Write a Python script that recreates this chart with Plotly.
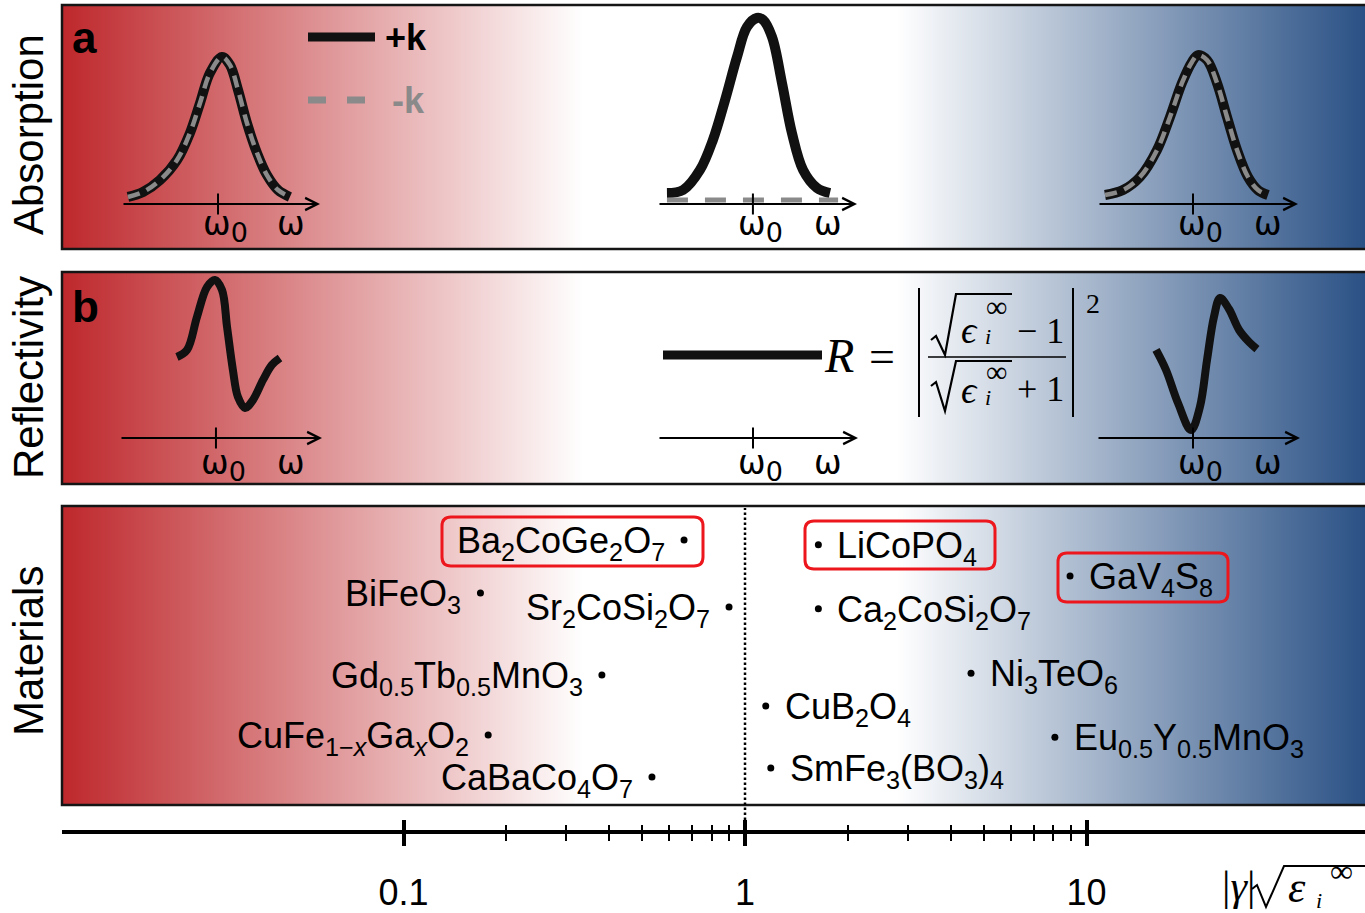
import numpy as np
import plotly.graph_objects as go

W, H = 1365, 913


def px(x):
    return x / W


def py(y):
    return 1 - y / H


SANS = "Liberation Sans, Arial, sans-serif"
SERIF = "Liberation Serif, Times New Roman, DejaVu Serif, serif"
OMEGA_FONT = "DejaVu Sans, Liberation Sans, sans-serif"

# ====================== DATA ======================
material_labels = [
    "Ba<sub>2</sub>CoGe<sub>2</sub>O<sub>7</sub>",
    "BiFeO<sub>3</sub>",
    "Sr<sub>2</sub>CoSi<sub>2</sub>O<sub>7</sub>",
    "Gd<sub>0.5</sub>Tb<sub>0.5</sub>MnO<sub>3</sub>",
    "CuFe<sub>1−<i>x</i></sub>Ga<sub><i>x</i></sub>O<sub>2</sub>",
    "CaBaCo<sub>4</sub>O<sub>7</sub>",
    "LiCoPO<sub>4</sub>",
    "GaV<sub>4</sub>S<sub>8</sub>",
    "Ca<sub>2</sub>CoSi<sub>2</sub>O<sub>7</sub>",
    "Ni<sub>3</sub>TeO<sub>6</sub>",
    "CuB<sub>2</sub>O<sub>4</sub>",
    "Eu<sub>0.5</sub>Y<sub>0.5</sub>MnO<sub>3</sub>",
    "SmFe<sub>3</sub>(BO<sub>3</sub>)<sub>4</sub>",
]
material_values = [0.663, 0.168, 0.898, 0.381, 0.177, 0.534,
                   1.64, 8.95, 1.64, 4.59, 1.15, 8.08, 1.19]
material_highlight = [True, False, False, False, False, False,
                      True, True, False, False, False, False, False]

axis_tick_values = [0.1, 1, 10]
axis_tick_text = ["0.1", "1", "10"]
axis_minor_values = [0.2, 0.3, 0.4, 0.5, 0.6, 0.7, 0.8, 0.9,
                     2, 3, 4, 5, 6, 7, 8, 9]
threshold_value = 1

panel_titles = ["Absorption", "Reflectivity", "Materials"]
panel_letters = ["a", "b"]
legend_names = ["+k", "-k"]

# absorption sketches: normalized frequency, normalized absorption
abs_weak_omega = [0.030, 0.106, 0.192, 0.278, 0.343, 0.394, 0.444, 0.505,
                  0.545, 0.586, 0.631, 0.682, 0.732, 0.788, 0.848]
abs_weak_plus = [0.047, 0.080, 0.160, 0.293, 0.473, 0.673, 0.873, 0.980,
                 0.927, 0.760, 0.540, 0.340, 0.193, 0.093, 0.047]
abs_weak_minus = [0.047, 0.080, 0.160, 0.293, 0.473, 0.673, 0.873, 0.980,
                  0.927, 0.760, 0.540, 0.340, 0.193, 0.093, 0.047]

abs_mid_omega = [0.045, 0.126, 0.211, 0.276, 0.337, 0.397, 0.447, 0.497,
                 0.528, 0.573, 0.623, 0.673, 0.729, 0.799, 0.864]
abs_mid_plus = [0.073, 0.093, 0.227, 0.427, 0.693, 0.980, 1.180, 1.240,
                1.227, 1.113, 0.807, 0.473, 0.227, 0.107, 0.073]
abs_mid_minus_omega = [0.045, 0.905]
abs_mid_minus = [0.027, 0.027]

abs_strong_omega = [0.035, 0.125, 0.210, 0.295, 0.360, 0.420, 0.470, 0.500,
                    0.545, 0.595, 0.645, 0.695, 0.750, 0.800, 0.850]
abs_strong_plus = [0.060, 0.093, 0.180, 0.360, 0.580, 0.807, 0.947, 0.993,
                   0.960, 0.807, 0.580, 0.360, 0.180, 0.093, 0.060]
abs_strong_minus = [0.060, 0.093, 0.180, 0.360, 0.580, 0.807, 0.947, 0.993,
                    0.960, 0.807, 0.580, 0.360, 0.180, 0.093, 0.060]

# reflectivity sketches
refl_weak_omega = [0.282, 0.332, 0.381, 0.431, 0.470, 0.505, 0.530, 0.559,
                   0.584, 0.619, 0.658, 0.708, 0.752, 0.792]
refl_weak = [0.540, 0.587, 0.807, 1.007, 1.053, 0.987, 0.740, 0.453,
             0.273, 0.200, 0.253, 0.387, 0.487, 0.533]
refl_mid_omega = [0.025, 0.820]
refl_mid = [0.553, 0.553]
refl_strong_omega = [0.291, 0.340, 0.399, 0.463, 0.507, 0.542, 0.576, 0.606,
                     0.650, 0.700, 0.749, 0.788]
refl_strong = [0.587, 0.453, 0.233, 0.053, 0.207, 0.520, 0.807, 0.933,
               0.860, 0.720, 0.640, 0.593]

omega0_values = [0.485, 0.477, 0.475, 0.475, 0.475, 0.473]

# ====================== LAYOUT GEOMETRY ======================
PANELS = [(5, 249), (272, 484), (506, 805)]
PANEL_LEFT = 62
AXIS_Y = 832
ONE_PX = 745.0
DECADE_PX = 341.5
log_range = [(PANEL_LEFT - ONE_PX) / DECADE_PX, (W - ONE_PX) / DECADE_PX]

material_rows = [0.886, 0.709, 0.662, 0.435, 0.234, 0.094,
                 0.870, 0.766, 0.656, 0.441, 0.331, 0.227, 0.124]
highlight_boxes = {0: (442, 517, 703, 566), 6: (805, 521, 995, 569),
                   7: (1058, 553, 1228, 602)}

UNIT = 150.0
INSETS = [
    dict(x0=122, x1=320, y0=204, ymax=1.3, lab=0.854, dy=0),
    dict(x0=658, x1=857, y0=204, ymax=1.3, lab=0.854, dy=0),
    dict(x0=1098, x1=1298, y0=204, ymax=1.3, lab=0.850, dy=0),
    dict(x0=120, x1=322, y0=438, ymax=1.2, lab=0.847, dy=-5),
    dict(x0=658, x1=858, y0=438, ymax=1.2, lab=0.850, dy=-5),
    dict(x0=1097, x1=1300, y0=438, ymax=1.2, lab=0.842, dy=-5),
]

BLACK = "#111111"
GRAY = "#8a8a8a"
STYLE = {
    "plus": dict(color=BLACK, width=10, shape="spline", smoothing=1.0),
    "minus": dict(color=GRAY, width=4.5, dash="12px,8px", shape="spline", smoothing=1.0),
    "minus_flat": dict(color=GRAY, width=5, dash="21px,17px"),
    "refl": dict(color=BLACK, width=8, shape="spline", smoothing=1.0),
    "refl_flat": dict(color=BLACK, width=9),
}
inset_series = [
    [(abs_weak_omega, abs_weak_plus, "plus", "+k"), (abs_weak_omega, abs_weak_minus, "minus", "-k")],
    [(abs_mid_omega, abs_mid_plus, "plus", "+k"), (abs_mid_minus_omega, abs_mid_minus, "minus_flat", "-k")],
    [(abs_strong_omega, abs_strong_plus, "plus", "+k"), (abs_strong_omega, abs_strong_minus, "minus", "-k")],
    [(refl_weak_omega, refl_weak, "refl", "R")],
    [(refl_mid_omega, refl_mid, "refl_flat", "R")],
    [(refl_strong_omega, refl_strong, "refl", "R")],
]

grad_scale = [[0.0, "rgb(190,40,44)"], [0.40, "rgb(255,255,255)"],
              [0.64, "rgb(255,255,255)"], [1.0, "rgb(42,81,133)"]]

fig = go.Figure()
layout = dict(
    width=W, height=H, margin=dict(l=0, r=0, t=0, b=0),
    paper_bgcolor="white", plot_bgcolor="rgba(0,0,0,0)", showlegend=False,
)
shapes, annotations = [], []

# ---------- gradient panels ----------
layout["xaxis"] = dict(domain=[px(PANEL_LEFT), 1], range=[0, 1], visible=False, fixedrange=True)
for i, (top, bot) in enumerate(PANELS):
    yid = "y" if i == 0 else f"y{i + 1}"
    fig.add_trace(go.Heatmap(z=[[0, 1], [0, 1]], x=[0, 1], y=[0, 1], zmin=0, zmax=1,
                             zsmooth="best", colorscale=grad_scale, showscale=False,
                             hoverinfo="skip", xaxis="x", yaxis=yid))
    layout["yaxis" if i == 0 else f"yaxis{i + 1}"] = dict(
        domain=[py(bot), py(top)], range=[0, 1], visible=False, fixedrange=True, anchor="x")
    shapes.append(dict(type="rect", xref="paper", yref="paper", x0=px(PANEL_LEFT), x1=px(W + 3),
                       y0=py(bot), y1=py(top), line=dict(color="#151515", width=2.5),
                       fillcolor="rgba(0,0,0,0)", layer="above"))

# ---------- main log axis & materials ----------
layout["xaxis2"] = dict(
    type="log", domain=[px(PANEL_LEFT), 1], range=log_range, anchor="free", position=py(AXIS_Y),
    showline=True, linewidth=4, linecolor="black", showgrid=False, zeroline=False,
    tickmode="array", tickvals=axis_tick_values, ticktext=axis_tick_text,
    ticks="outside", ticklen=12, tickwidth=4, tickcolor="black",
    tickfont=dict(size=36, family=SANS, color="black"), ticklabelstandoff=16,
    minor=dict(tickmode="array", tickvals=axis_minor_values, ticks="outside",
               ticklen=7, tickwidth=2, tickcolor="black", showgrid=False),
    fixedrange=True)
layout["xaxis3"] = dict(
    type="log", domain=[px(PANEL_LEFT), 1], range=log_range, anchor="free", position=py(AXIS_Y),
    overlaying="x2", showline=False, showgrid=False, zeroline=False,
    tickmode="array", tickvals=axis_tick_values, ticks="inside", ticklen=12, tickwidth=4,
    tickcolor="black", showticklabels=False,
    minor=dict(tickmode="array", tickvals=axis_minor_values, ticks="inside",
               ticklen=7, tickwidth=2, tickcolor="black", showgrid=False),
    fixedrange=True)
top_c, bot_c = PANELS[2]
layout["yaxis4"] = dict(domain=[py(bot_c), py(top_c)], range=[0, 1], visible=False,
                        fixedrange=True, anchor="x2")

fig.add_trace(go.Scatter(x=material_values, y=material_rows, mode="markers",
                         marker=dict(color="black", size=7), xaxis="x2", yaxis="y4",
                         hoverinfo="skip"))
fig.add_trace(go.Scatter(x=[threshold_value], y=[0.5], mode="markers", marker=dict(opacity=0),
                         xaxis="x3", yaxis="y4", hoverinfo="skip"))

for i, (name, val, row) in enumerate(zip(material_labels, material_values, material_rows)):
    left = val < threshold_value
    annotations.append(dict(
        x=float(np.log10(val)), y=row, xref="x2", yref="y4", text=name, showarrow=False,
        xanchor="right" if left else "left", xshift=-17 if left else 17,
        yanchor="top", yshift=22, font=dict(size=36, family=SANS, color="black")))


def rrect(x0, y0, x1, y1, r):
    X, Y = px, py
    return (f"M {X(x0 + r)},{Y(y0)} L {X(x1 - r)},{Y(y0)} Q {X(x1)},{Y(y0)} {X(x1)},{Y(y0 + r)} "
            f"L {X(x1)},{Y(y1 - r)} Q {X(x1)},{Y(y1)} {X(x1 - r)},{Y(y1)} "
            f"L {X(x0 + r)},{Y(y1)} Q {X(x0)},{Y(y1)} {X(x0)},{Y(y1 - r)} "
            f"L {X(x0)},{Y(y0 + r)} Q {X(x0)},{Y(y0)} {X(x0 + r)},{Y(y0)} Z")


for i, hl in enumerate(material_highlight):
    if hl:
        shapes.append(dict(type="path", xref="paper", yref="paper", path=rrect(*highlight_boxes[i], 9),
                           line=dict(color="rgb(236,22,28)", width=3), layer="above"))

# threshold dotted line
shapes.append(dict(type="line", xref="x2", yref="paper", x0=threshold_value, x1=threshold_value,
                   y0=py(820), y1=py(508), line=dict(color="black", width=2.5, dash="2.5px,2.5px"),
                   layer="above"))


# ---------- helpers for math pieces ----------
def ftext(x, y, t, size, italic=False, family=SERIF, anchor="center"):
    annotations.append(dict(x=px(x), y=py(y), xref="paper", yref="paper",
                            text=("<i>" + t + "</i>") if italic else t, showarrow=False,
                            xanchor=anchor, yanchor="middle",
                            font=dict(size=size, family=family, color="black")))


def fline(x0, y0, x1, y1, w=2):
    shapes.append(dict(type="line", xref="paper", yref="paper", x0=px(x0), x1=px(x1),
                       y0=py(y0), y1=py(y1), line=dict(color="black", width=w), layer="above"))


def fpath(pts, w=2):
    p = "M " + " L ".join(f"{px(a)},{py(b)}" for a, b in pts)
    shapes.append(dict(type="path", xref="paper", yref="paper", path=p,
                       line=dict(color="black", width=w), layer="above"))


# axis title |γ|√ε_i^∞
ftext(1238, 886, "|<i>γ</i>|", 42)
fpath([(1252, 889), (1257, 885), (1266, 907), (1284, 866), (1368, 866)], 2)
ftext(1286, 887, "ε", 44, italic=True, anchor="left")
ftext(1314, 900, "i", 22, italic=True, anchor="left")
ftext(1328, 871, "∞", 32, anchor="left")

# ---------- insets ----------
for k, ins in enumerate(INSETS):
    xn, yn = 4 + k, 5 + k
    xid, yid = f"x{xn}", f"y{yn}"
    layout[f"xaxis{xn}"] = dict(domain=[px(ins["x0"]), px(ins["x1"])], range=[0, 1],
                                visible=False, fixedrange=True, anchor=yid)
    layout[f"yaxis{yn}"] = dict(domain=[py(ins["y0"] + 0.1 * UNIT), py(ins["y0"] - ins["ymax"] * UNIT)],
                                range=[-0.1, ins["ymax"]], visible=False, fixedrange=True, anchor=xid)
    for om, val, st, nm in inset_series[k]:
        fig.add_trace(go.Scatter(x=om, y=val, mode="lines", line=STYLE[st], name=nm,
                                 xaxis=xid, yaxis=yid, hoverinfo="skip"))
    fig.add_trace(go.Scatter(x=[omega0_values[k]], y=[0], mode="markers",
                             marker=dict(symbol="line-ns", size=15, line=dict(width=2, color="black")),
                             xaxis=xid, yaxis=yid, hoverinfo="skip"))
    annotations.append(dict(x=1, y=0, ax=0, ay=0, xref=xid, yref=yid, axref=xid, ayref=yid,
                            text="", showarrow=True, arrowhead=5, arrowsize=1.2, arrowwidth=2,
                            arrowcolor="black", standoff=0, startstandoff=0,
                            font=dict(size=1)))
    annotations.append(dict(x=omega0_values[k], y=0, xref=xid, yref=yid, showarrow=False,
                            text="ω<sub><span style='font-size:27px'>0</span></sub>",
                            xanchor="left", xshift=-17, yanchor="top", yshift=ins["dy"] + 2,
                            font=dict(size=33, family=OMEGA_FONT, color="black")))
    annotations.append(dict(x=ins["lab"], y=0, xref=xid, yref=yid, showarrow=False, text="ω",
                            xanchor="center", yanchor="top", yshift=ins["dy"] + 2,
                            font=dict(size=33, family=OMEGA_FONT, color="black")))

# ---------- legend (panel a) ----------
shapes.append(dict(type="line", xref="paper", yref="paper", x0=px(308), x1=px(375), y0=py(37), y1=py(37),
                   line=dict(color=BLACK, width=9), layer="above"))
shapes.append(dict(type="line", xref="paper", yref="paper", x0=px(308), x1=px(370), y0=py(100), y1=py(100),
                   line=dict(color=GRAY, width=7, dash="18px,21px"), layer="above"))
annotations.append(dict(x=px(383), y=py(37), xref="paper", yref="paper", text="<b>" + legend_names[0] + "</b>",
                        showarrow=False, xanchor="left", yanchor="middle",
                        font=dict(size=36, family=SANS, color="black")))
annotations.append(dict(x=px(390), y=py(100), xref="paper", yref="paper", text="<b>" + legend_names[1] + "</b>",
                        showarrow=False, xanchor="left", yanchor="middle",
                        font=dict(size=36, family=SANS, color=GRAY)))

# ---------- panel labels ----------
for title, yc in zip(panel_titles, [135, 378, 651]):
    annotations.append(dict(x=px(28), y=py(yc), xref="paper", yref="paper", text=title, textangle=-90,
                            showarrow=False, xanchor="center", yanchor="middle",
                            font=dict(size=42, family=SANS, color="black")))
for letter, yc in zip(panel_letters, [38, 306]):
    annotations.append(dict(x=px(70), y=py(yc), xref="paper", yref="paper", text="<b>" + letter + "</b>",
                            showarrow=False, xanchor="left", yanchor="middle",
                            font=dict(size=44, family=SANS, color="black")))

# ---------- reflectivity formula ----------
ftext(839, 355, "R", 48, italic=True)
ftext(882, 356, "=", 46)
fline(919, 288, 919, 417, 2)
fline(1073, 288, 1073, 417, 2)
ftext(1093, 303, "2", 28)
fline(928, 357, 1066, 357, 1.5)
# numerator
fpath([(931, 340), (936, 336), (945, 355), (956, 294), (1012, 294)], 2.2)
ftext(969, 330, "ϵ", 38, italic=True)
ftext(996, 306, "∞", 30)
ftext(988, 336, "i", 22, italic=True)
ftext(1040, 331, "− 1", 36)
# denominator
fpath([(931, 386), (936, 382), (945, 411), (956, 361), (1012, 361)], 2.2)
ftext(969, 390, "ϵ", 38, italic=True)
ftext(996, 372, "∞", 30)
ftext(988, 397, "i", 22, italic=True)
ftext(1040, 389, "+ 1", 36)

layout["shapes"] = shapes
layout["annotations"] = annotations
fig.update_layout(**layout)
fig.write_html("out.html")
